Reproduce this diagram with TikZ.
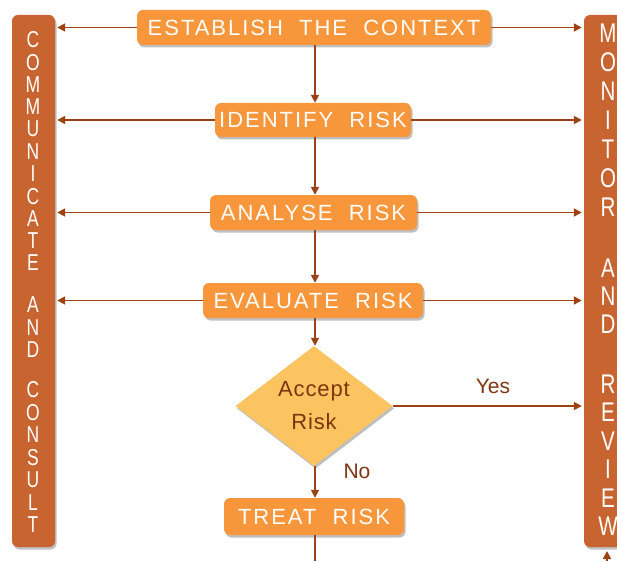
\documentclass[tikz,border=0pt]{standalone}
\usepackage{fontspec}
\setmainfont{Liberation Sans}
\newfontfamily\boxfont[LetterSpace=9,WordSpace=2]{Liberation Sans}
\newfontfamily\barfont[FakeStretch=0.76]{Liberation Sans}
\newfontfamily\diafont[LetterSpace=4]{Liberation Sans}
\usetikzlibrary{arrows.meta,shapes.geometric,shadows}
\definecolor{barc}{RGB}{200,100,48}
\definecolor{boxc}{RGB}{247,150,58}
\definecolor{diac}{RGB}{252,196,96}
\definecolor{arrc}{RGB}{155,65,20}
\definecolor{txtc}{RGB}{125,52,16}
\begin{document}
\begin{tikzpicture}[x=1pt,y=-1pt,
  shade/.style={drop shadow={shadow xshift=1.5pt,shadow yshift=-2.5pt,opacity=0.25,fill=black}},
  stepbox/.style={rectangle,rounded corners=6pt,fill=boxc,text=white,inner sep=0pt,
    font=\boxfont\fontsize{22}{22}\selectfont,shade},
  sidebar/.style={rectangle,rounded corners=6pt,fill=barc,inner sep=0pt,minimum height=532pt,shade},
  lletter/.style={text=white,inner sep=0pt,font=\barfont\fontsize{23}{23}\selectfont},
  rletter/.style={text=white,inner sep=0pt,font=\barfont\fontsize{27}{27}\selectfont},
  decision/.style={diamond,fill=diac,text=txtc,inner sep=0pt,minimum width=157pt,minimum height=92pt,
    align=center,font=\diafont\fontsize{22}{33}\selectfont,shade},
  lbl/.style={text=txtc,inner sep=0pt,font=\fontsize{21}{21}\selectfont},
  conn/.style={draw=arrc,line width=1.7pt},
  arr/.style={conn,-{Triangle[length=8pt,width=8pt]}},
]
\useasboundingbox (0,0) rectangle (617,561);
% side bars
\node[sidebar,minimum width=43pt] (L) at (33.5,281) {};
\node[sidebar,minimum width=44pt] (R) at (606,281) {};
% left letters
\foreach \ch/\yy [count=\i] in {C/40,O/62.3,M/84.6,M/106.9,U/129.2,N/151.5,I/173.8,C/196.1,A/218.4,T/240.7,E/263,
  A/305,N/327.5,D/350,
  C/390,O/412.5,N/435,S/457.5,U/480,L/502.5,T/525}
  \node[lletter] (l\i) at (33,\yy) {\ch};
% right letters
\foreach \ch/\yy [count=\i] in {M/33,O/62,N/91,I/120,T/149,O/178,R/207,
  A/268,N/296,D/324,
  R/384,E/412.5,V/441,I/469.5,E/498,W/526.5}
  \node[rletter] (r\i) at (608,\yy) {\ch};
% steps
\node[stepbox,minimum width=354pt,minimum height=35pt] (est) at (314,27.5) {ESTABLISH THE CONTEXT};
\node[stepbox,minimum width=196pt,minimum height=34pt] (idf) at (313,120) {IDENTIFY RISK};
\node[stepbox,minimum width=207pt,minimum height=35pt] (ana) at (313.5,212.5) {ANALYSE RISK};
\node[stepbox,minimum width=220pt,minimum height=35pt] (eva) at (313,300.5) {EVALUATE RISK};
\node[decision] (acc) at (314,406) {Accept\\Risk};
\node[stepbox,minimum width=180pt,minimum height=37pt] (trt) at (314,516.5) {TREAT RISK};
% labels
\node[lbl] (yes) at (493,386) {Yes};
\node[lbl] (no) at (357,471) {No};
% vertical flow
\draw[arr] (est.south -| 315,0) -- (idf.north -| 315,0);
\draw[arr] (idf.south -| 315,0) -- (ana.north -| 315,0);
\draw[arr] (ana.south -| 315,0) -- (eva.north -| 315,0);
\draw[arr] (eva.south -| 315,0) -- (acc.north -| 315,0);
\draw[arr] (acc.south -| 315,0) -- (trt.north -| 315,0);
\coordinate (bot) at (315,561);
\draw[conn] (trt.south -| 315,0) -- (bot);
% side arrows
\foreach \n in {est,idf,ana,eva}{
  \draw[arr,shorten >=2pt] (\n.west) -- (\n.west -| L.east);
  \draw[arr,shorten >=2pt] (\n.east) -- (\n.east -| R.west);
}
\draw[arr,shorten >=2pt] (acc.east) -- (acc.east -| R.west);
\coordinate (rb) at (607,561);
\coordinate (rbt) at (607,551);
\draw[arr] (rb) -- (rbt);
\end{tikzpicture}
\end{document}
